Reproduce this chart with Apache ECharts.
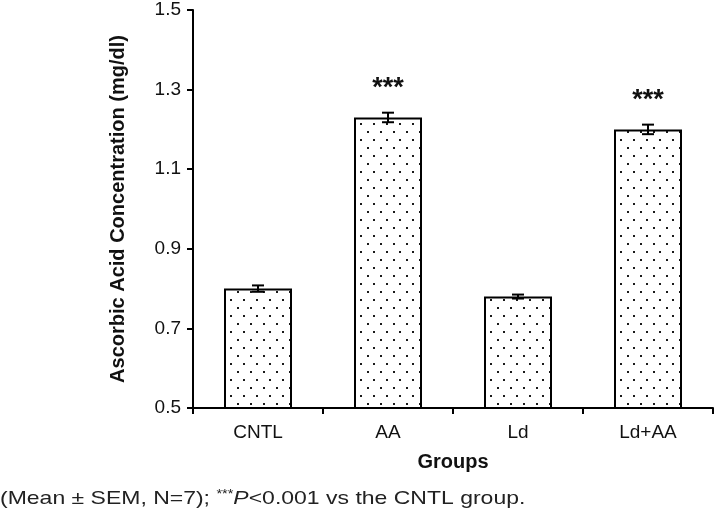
<!DOCTYPE html>
<html><head><meta charset="utf-8">
<script src="https://cdn.jsdelivr.net/npm/echarts@6/dist/echarts.min.js"></script>
<style>html,body{margin:0;padding:0;background:#fff}#c{width:716px;height:516px}</style>
</head><body><div id="c"></div>
<script>
const categories = ['CNTL', 'AA', 'Ld', 'Ld+AA'];
const means = [0.80, 1.23, 0.78, 1.20];
const sems = [0.008, 0.012, 0.005, 0.012];
const stars = ['', '***', '', '***'];
const yTicks = [0.5, 0.7, 0.9, 1.1, 1.3, 1.5];

const pc = document.createElement('canvas');
pc.width = 13; pc.height = 16;
const px = pc.getContext('2d');
px.fillStyle = '#fff'; px.fillRect(0, 0, 13, 16);
px.fillStyle = '#1a1a1a';
px.fillRect(3, 3, 2, 2);
px.fillRect(9, 11, 2, 2);

const chart = echarts.init(document.getElementById('c'), null, {renderer: 'canvas'});
const F = '"Liberation Sans", Arial, sans-serif';
chart.setOption({
  animation: false,
  grid: {left: 193, right: 3, top: 10, bottom: 108, containLabel: false},
  xAxis: {
    type: 'category', data: categories,
    axisLine: {lineStyle: {color: '#000', width: 2}},
    axisTick: {show: true, length: 6, lineStyle: {color: '#000', width: 2}},
    axisLabel: {color: '#111', fontSize: 19, fontFamily: F, margin: 15},
    name: 'Groups', nameLocation: 'middle', nameGap: 44,
    nameTextStyle: {fontSize: 20, fontWeight: 'bold', fontFamily: F, color: '#111'}
  },
  yAxis: {
    type: 'value', min: yTicks[0], max: yTicks[yTicks.length - 1], interval: 0.2,
    axisLine: {show: true, lineStyle: {color: '#000', width: 2}},
    axisTick: {show: true, length: 6, lineStyle: {color: '#000', width: 2}},
    splitLine: {show: false},
    axisLabel: {color: '#111', fontSize: 19, fontFamily: F, margin: 12,
      formatter: v => v.toFixed(1)},
    name: 'Ascorbic Acid Concentration (mg/dl)', nameLocation: 'middle', nameGap: 65,
    nameTextStyle: {fontSize: 20, fontWeight: 'bold', fontFamily: F, color: '#111'}
  },
  series: [
    {
      type: 'bar', data: means, barWidth: 68,
      itemStyle: {color: {image: pc, repeat: 'repeat'}, borderColor: '#000', borderWidth: 2},
      label: {show: true, position: 'top', distance: 15,
        formatter: p => stars[p.dataIndex], fontSize: 27, fontWeight: 'bold', fontFamily: F, color: '#111'},
      z: 2
    },
    {
      type: 'custom', z: 5,
      data: means.map((m, i) => [i, m - sems[i], m + sems[i]]),
      renderItem: (params, api) => {
        const lo = api.coord([api.value(0), api.value(1)]);
        const hi = api.coord([api.value(0), api.value(2)]);
        const hw = 6;
        const st = {stroke: '#000', lineWidth: 2};
        return {type: 'group', children: [
          {type: 'line', shape: {x1: hi[0], y1: hi[1], x2: lo[0], y2: lo[1]}, style: st},
          {type: 'line', shape: {x1: hi[0] - hw, y1: hi[1], x2: hi[0] + hw, y2: hi[1]}, style: st},
          {type: 'line', shape: {x1: lo[0] - hw, y1: lo[1], x2: lo[0] + hw, y2: lo[1]}, style: st}
        ]};
      }
    }
  ],
  graphic: [{
    type: 'text', x: 0, y: 489, scaleX: 1.21,
    style: {
      text: '(Mean ± SEM, N=7); {sup|***}{it|P}<0.001 vs the CNTL group.',
      font: '19px ' + F, fill: '#222',
      rich: {
        sup: {fontSize: 12, fontFamily: F, fill: '#222', verticalAlign: 'top', padding: [0, 0, 6, 0]},
        it: {fontSize: 19, fontStyle: 'italic', fontFamily: F, fill: '#222'}
      }
    }
  }]
});
</script></body></html>
